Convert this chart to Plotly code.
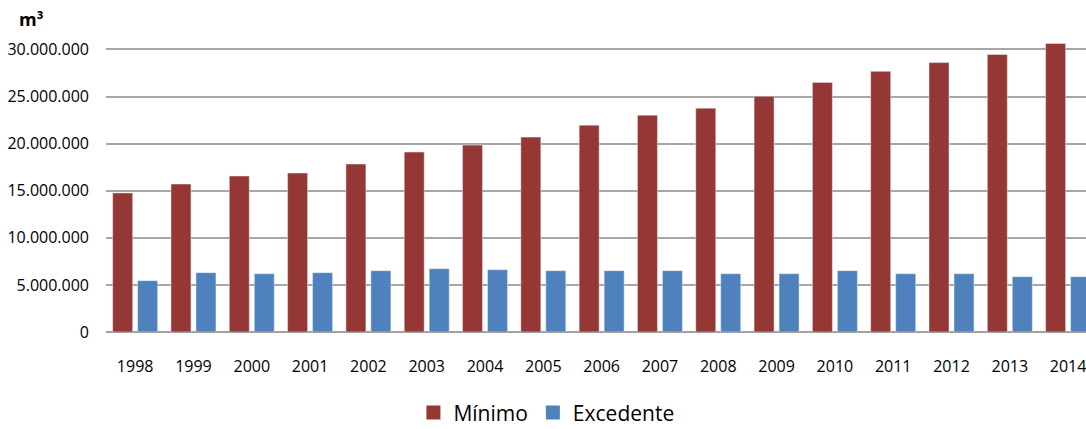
import plotly.graph_objects as go

years = list(range(1998, 2015))
minimo = [14.76, 15.71, 16.56, 16.88, 17.83, 19.10, 19.84, 20.69, 21.96, 23.02,
          23.76, 25.03, 26.50, 27.67, 28.60, 29.47, 30.63]
excedente = [5.45, 6.30, 6.19, 6.30, 6.51, 6.72, 6.61, 6.51, 6.51, 6.51,
             6.19, 6.19, 6.51, 6.19, 6.19, 5.87, 5.87]
minimo = [v * 1e6 for v in minimo]
excedente = [v * 1e6 for v in excedente]
y_ticks = [0, 5e6, 10e6, 15e6, 20e6, 25e6, 30e6]

FONT = "Open Sans"
RED = "#953735"
BLUE = "#4f81bd"

fig = go.Figure()
fig.add_trace(go.Bar(x=years, y=minimo, name="Mínimo", marker_color=RED,
                     showlegend=False))
fig.add_trace(go.Bar(x=years, y=excedente, name="Excedente", marker_color=BLUE,
                     showlegend=False))
# legend entries with larger square symbols
fig.add_trace(go.Scatter(x=[None], y=[None], mode="markers", name="Mínimo",
                         marker=dict(symbol="square", size=14, color=RED)))
fig.add_trace(go.Scatter(x=[None], y=[None], mode="markers", name="Excedente",
                         marker=dict(symbol="square", size=14, color=BLUE)))

fig.update_layout(
    width=1086, height=429,
    margin=dict(l=105.5, r=0, t=39.5, b=96.5, autoexpand=False),
    paper_bgcolor="white", plot_bgcolor="white",
    separators=",.",
    barmode="group", bargap=0.143, bargroupgap=0.2,
    font=dict(family=FONT, size=16, color="#000000"),
    xaxis=dict(range=[1997.5, 1997.5 + 980.5 / 58.34], tickvals=years,
               ticktext=[str(y) for y in years], showgrid=False, automargin=False,
               ticks="outside", ticklen=0, tickcolor="white", ticklabelstandoff=20,
               ticklabeloverflow="allow",
               showline=False, zeroline=False),
    yaxis=dict(range=[0, 31e6], tickvals=y_ticks, tickformat=",d", automargin=False,
               showgrid=True, gridcolor="#a6a6a6", gridwidth=1.5,
               zeroline=True, zerolinecolor="#a0a0a0", zerolinewidth=1.5,
               ticklabelstandoff=16, showline=False),
    legend=dict(orientation="h", x=0.4494, xanchor="center", y=-0.277, yanchor="middle",
                font=dict(family=FONT, size=21), itemsizing="trace",
                traceorder="normal", itemwidth=30),
    annotations=[dict(text="<b>m³</b>", xref="paper", yref="paper", x=-0.091, y=1.072,
                      xanchor="left", yanchor="middle", showarrow=False,
                      font=dict(family=FONT, size=18))],
)

fig.write_html("out.html")
